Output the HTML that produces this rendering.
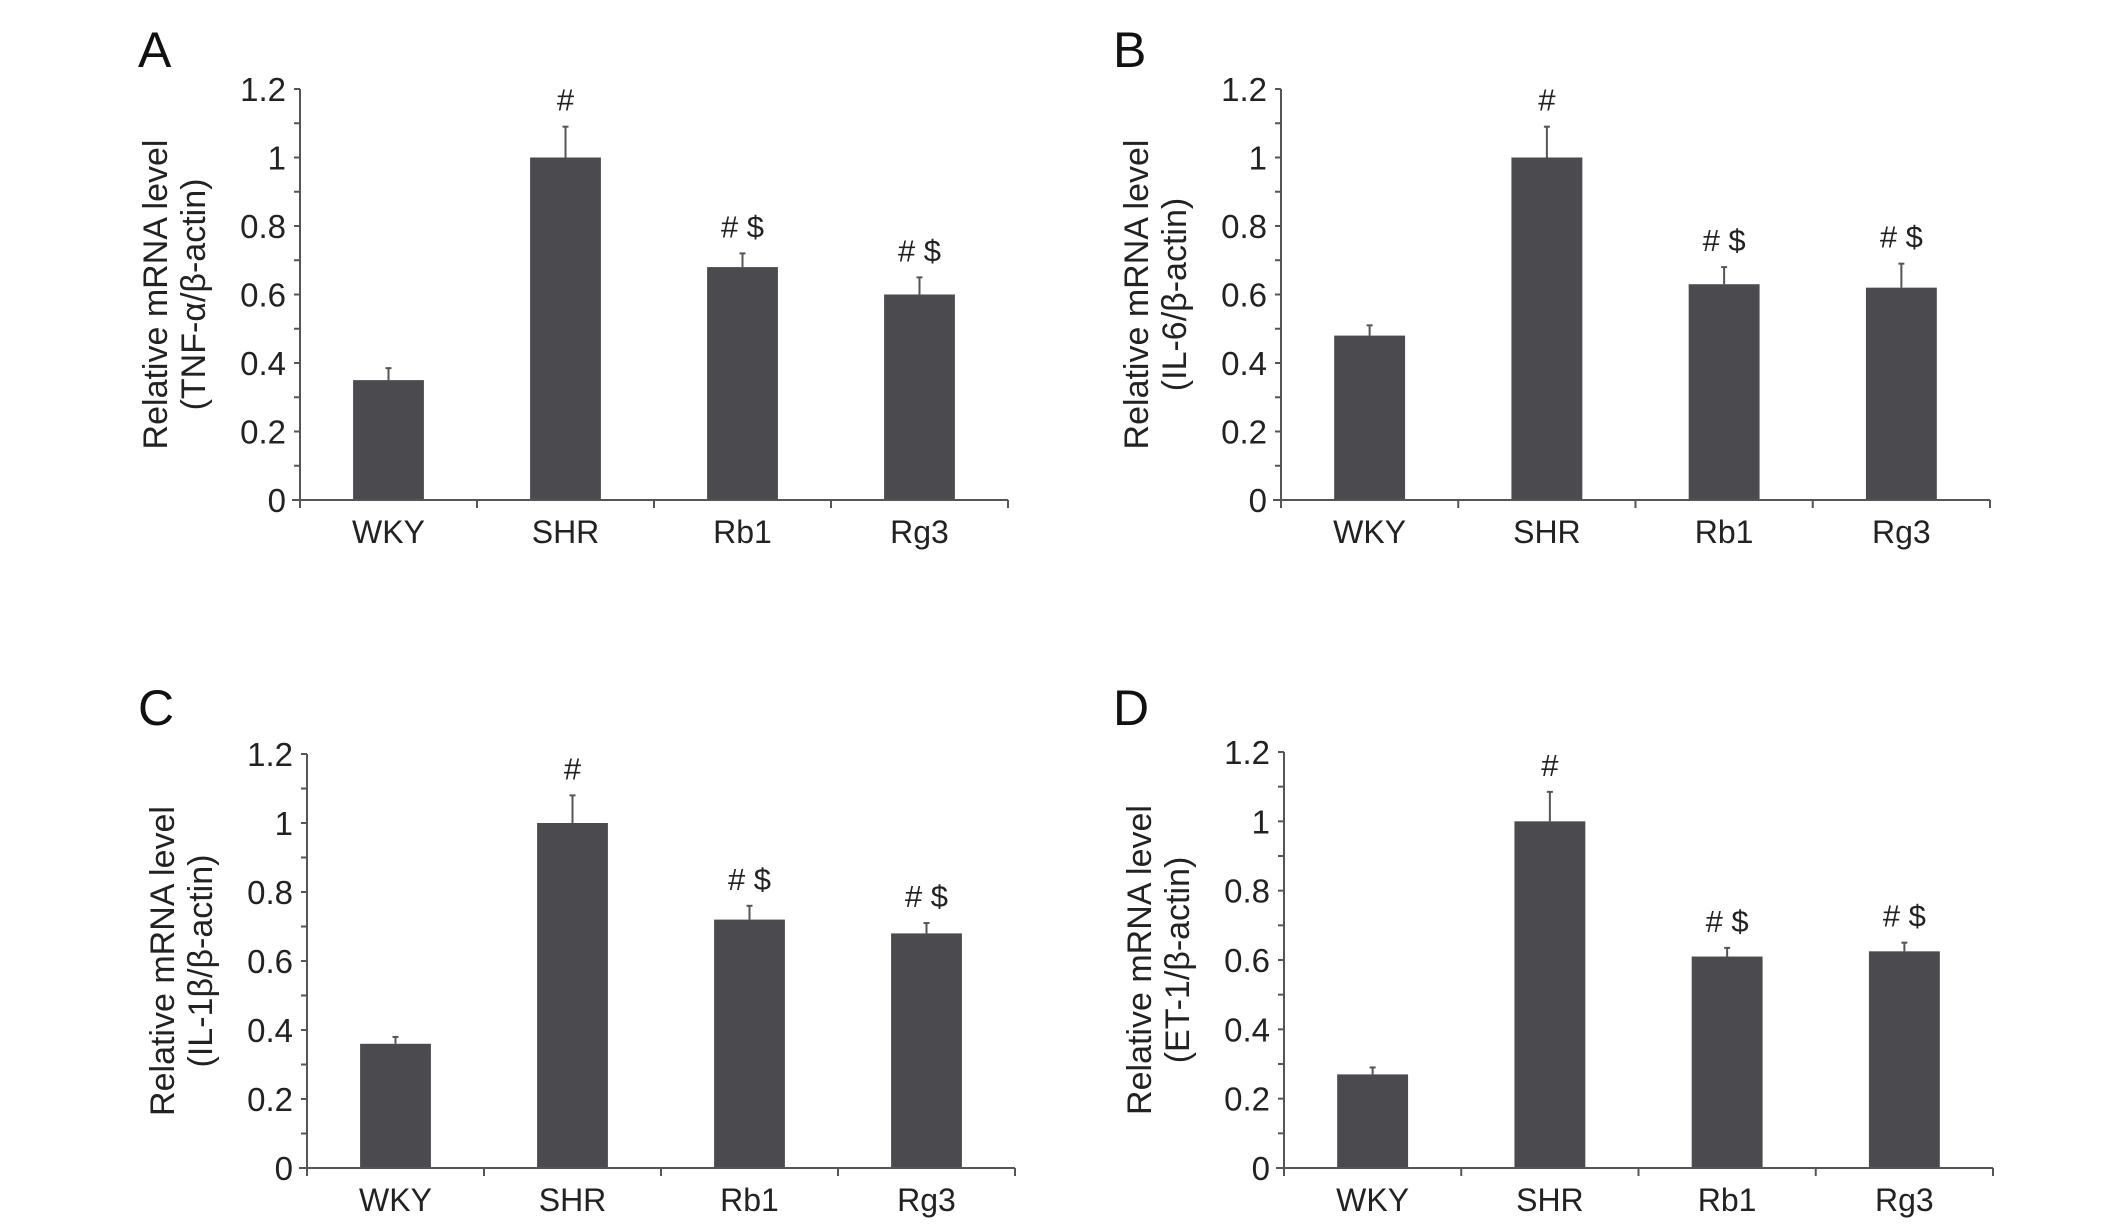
<!DOCTYPE html>
<html><head><meta charset="utf-8"><style>
html,body{margin:0;padding:0;background:#fff;}
svg{display:block;font-family:"Liberation Sans",Arial,sans-serif;}
</style></head><body>
<svg id="fig" width="2126" height="1225" viewBox="0 0 2126 1225"></svg>
<script>
const categories = ["WKY","SHR","Rb1","Rg3"];
const yTicks = [0,0.2,0.4,0.6,0.8,1,1.2];
const yTickLabels = ["0","0.2","0.4","0.6","0.8","1","1.2"];
const valuesA = [0.35,1.0,0.68,0.60];
const errorsA = [0.035,0.09,0.04,0.05];
const valuesB = [0.48,1.0,0.63,0.62];
const errorsB = [0.03,0.09,0.05,0.07];
const valuesC = [0.36,1.0,0.72,0.68];
const errorsC = [0.02,0.08,0.04,0.03];
const valuesD = [0.27,1.0,0.61,0.625];
const errorsD = [0.02,0.085,0.025,0.025];
const marks = ["","#","# $","# $"];

const NS="http://www.w3.org/2000/svg";
const svg=document.getElementById('fig');
function mk(tag,attrs,parent,text){const e=document.createElementNS(NS,tag);for(const k in attrs)e.setAttribute(k,attrs[k]);if(text!==undefined)e.textContent=text;(parent||svg).appendChild(e);return e;}

const panels=[
 {id:"a",letter:"A",lx:138,ly:22,x0:300,x1:1008,yTop:89,yBot:500,vals:valuesA,errs:errorsA,sub:"(TNF-α/β-actin)"},
 {id:"b",letter:"B",lx:1113,ly:22,x0:1281,x1:1990,yTop:89,yBot:500,vals:valuesB,errs:errorsB,sub:"(IL-6/β-actin)"},
 {id:"c",letter:"C",lx:138,ly:680,x0:307,x1:1015,yTop:754,yBot:1168,vals:valuesC,errs:errorsC,sub:"(IL-1β/β-actin)"},
 {id:"d",letter:"D",lx:1113,ly:680,x0:1284,x1:1993,yTop:752,yBot:1168,vals:valuesD,errs:errorsD,sub:"(ET-1/β-actin)"}
];
panels.forEach(p=>{
 const g=mk('g',{});
 
 
 const yS=v=>p.yBot-(v/1.2)*(p.yBot-p.yTop);
 const bw=(p.x1-p.x0)/categories.length;
 const xC=i=>p.x0+bw*(i+0.5);
 const L=mk('text',{x:p.lx,y:p.ly+45,'font-size':50,fill:'#111'},g,p.letter);
 
 
 p.vals.forEach((v,i)=>{
  const top=yS(v), et=yS(v+p.errs[i]);
  const eb=mk('line',{x1:xC(i),x2:xC(i),y1:top,y2:et,stroke:'#555','stroke-width':2},g);
  
  
  mk('line',{x1:xC(i)-3,x2:xC(i)+3,y1:et,y2:et,stroke:'#555','stroke-width':2},g);
  const r=mk('rect',{x:xC(i)-bw*0.2,y:top,width:bw*0.4,height:p.yBot-top,fill:'#4a4a4f'},g);
  
  
  if(marks[i]){
   const m=mk('text',{x:xC(i),y:et-16,'font-size':31,'text-anchor':'middle',fill:'#222'},g,marks[i]);
   
   
  }
  const t=mk('text',{x:xC(i),y:p.yBot+43,'font-size':32,'text-anchor':'middle',fill:'#222'},g,categories[i]);
  
  
  if(i>0) mk('line',{x1:p.x0+bw*i,x2:p.x0+bw*i,y1:p.yBot,y2:p.yBot+8,stroke:'#555','stroke-width':2},g);
 });
 mk('line',{x1:p.x1,x2:p.x1,y1:p.yBot,y2:p.yBot+8,stroke:'#555','stroke-width':2},g);
 const ya=mk('line',{x1:p.x0,x2:p.x0,y1:p.yTop,y2:p.yBot+8,stroke:'#555','stroke-width':2},g);
 
 
 const xa=mk('line',{x1:p.x0-8,x2:p.x1,y1:p.yBot,y2:p.yBot,stroke:'#555','stroke-width':2},g);
 
 
 for(let k=0;k<=12;k++){const y=yS(k/10);mk('line',{x1:p.x0-6,x2:p.x0,y1:y,y2:y,stroke:'#555','stroke-width':2},g);}
 yTicks.forEach((v,i)=>{
  const t=mk('text',{x:p.x0-14,y:yS(v)+12,'font-size':33,'text-anchor':'end',fill:'#222'},g,yTickLabels[i]);
  
  
 });
 const cy=(p.yTop+p.yBot)/2;
 const tx=p.x0-133;
 const yt=mk('text',{x:0,y:0,'font-size':34,'text-anchor':'middle',fill:'#222',transform:`translate(${tx},${cy}) rotate(-90)`},g,"Relative mRNA level");
 
 
 const ys=mk('text',{x:0,y:0,'font-size':34,'text-anchor':'middle',fill:'#222',transform:`translate(${tx+38},${cy}) rotate(-90)`},g,p.sub);
 
 
});
</script>
</body></html>
